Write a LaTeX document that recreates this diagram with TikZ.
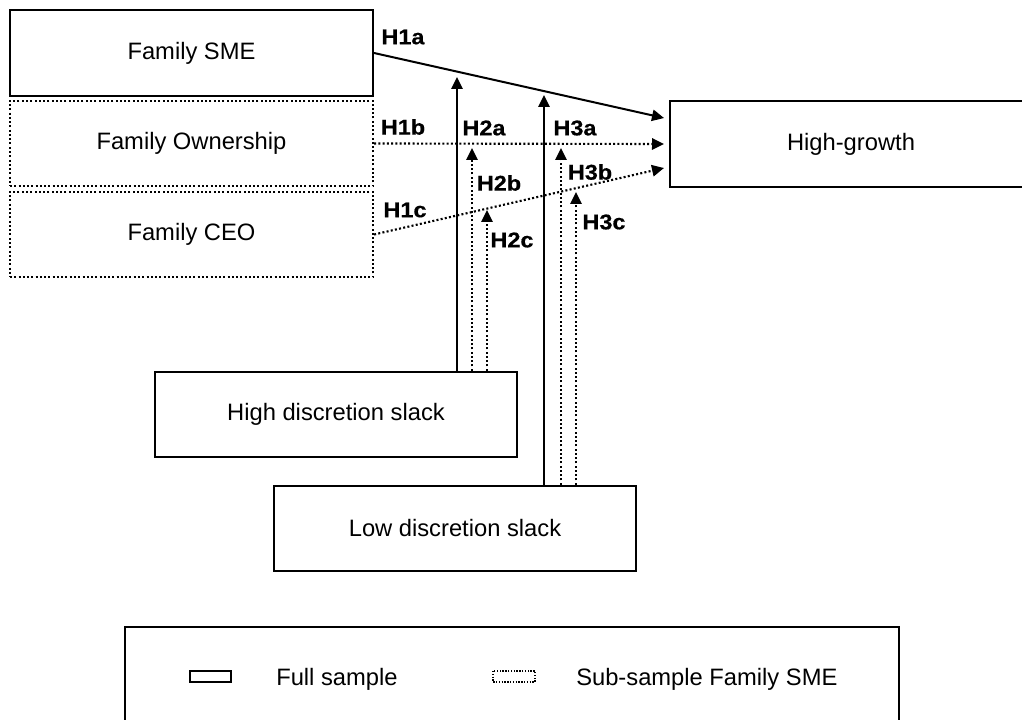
\documentclass[tikz,border=0pt]{standalone}
\usepackage{fontspec}
\setmainfont{Liberation Sans}
\newfontfamily\hypfont[FakeStretch=1.1,FakeBold=0.5]{Liberation Sans Bold}
\usetikzlibrary{arrows.meta,calc}

\tikzset{
  boxline/.style={line width=1.5pt},
  dotline/.style={line width=1.6pt, dash pattern=on 1.5pt off 1.7pt},
  boxfont/.style={font=\fontsize{17.8pt}{20pt}\selectfont},
  fullbox/.style={draw, boxline, minimum height=64.1pt, inner sep=0pt, boxfont},
  subbox/.style={draw, dotline, minimum height=64.1pt, inner sep=0pt, boxfont},
  legtext/.style={anchor=base west, inner sep=0pt, boxfont},
  hyp/.style={font=\hypfont\fontsize{16pt}{18pt}\selectfont, inner sep=0pt},
  tip/.style={-{Triangle[length=9pt,width=8.5pt]}},
  fullarrow/.style={boxline, tip},
  subarrow/.style={dotline, tip},
}

\begin{document}
\begin{tikzpicture}[x=0.75pt, y=-0.75pt]
\useasboundingbox (0,0) rectangle (1022,720);
\clip (0,0) rectangle (1022,720);

% predictors
\node[fullbox, minimum width=272.3pt] (sme) at (191.5,53) {Family SME};
\node[subbox, minimum width=272.3pt] (own) at (191.5,143.5) {Family Ownership};
\node[subbox, minimum width=272.3pt] (ceo) at (191.5,234.5) {Family CEO};

% outcome (runs past the right edge)
\node[fullbox, minimum width=271.5pt] (hg) at (851,144) {High-growth};

% moderators
\node[fullbox, minimum width=271.5pt] (hds) at (336,414.5) {High discretion slack};
\node[fullbox, minimum width=271.5pt] (lds) at (455,528.5) {Low discretion slack};

% main effects
\draw[fullarrow] (sme.east) -- ($(hg.west)+(-5,-26)$);
\draw[subarrow] (own.east) -- ($(hg.west)+(-5,0)$);
\draw[subarrow] (ceo.east) -- ($(hg.west)+(-5,24)$);

% moderation arrows ending just below the main-effect paths
\coordinate (t2a) at (457,77);
\coordinate (t2b) at (472,148);
\coordinate (t2c) at (487,210);
\coordinate (t3a) at (544,95);
\coordinate (t3b) at (561,148);
\coordinate (t3c) at (576,192);

\draw[fullarrow] (hds.north -| t2a) -- (t2a);
\draw[subarrow] (hds.north -| t2b) -- (t2b);
\draw[subarrow] (hds.north -| t2c) -- (t2c);
\draw[fullarrow] (lds.north -| t3a) -- (t3a);
\draw[subarrow] (lds.north -| t3b) -- (t3b);
\draw[subarrow] (lds.north -| t3c) -- (t3c);

% hypothesis labels
\node[hyp] (h1a) at (403,37) {H1a};
\node[hyp] (h1b) at (403,127) {H1b};
\node[hyp] (h1c) at (405,210) {H1c};
\node[hyp] (h2a) at (484,128) {H2a};
\node[hyp] (h2b) at (499,183) {H2b};
\node[hyp] (h2c) at (512,240) {H2c};
\node[hyp] (h3a) at (575,128) {H3a};
\node[hyp] (h3b) at (590,172) {H3b};
\node[hyp] (h3c) at (604,222) {H3c};

% legend
\draw[line width=1.7pt] (125,627) rectangle (899,735);
\draw[boxline] (190,671) rectangle (231,682);
\node[legtext] (lfull) at (276,685) {Full sample};
\draw[line width=1.2pt, dash pattern=on 1pt off 1.1pt] (493,671) rectangle (535,682);
\node[legtext] (lsub) at (576,685) {Sub-sample Family SME};
\end{tikzpicture}
\end{document}
